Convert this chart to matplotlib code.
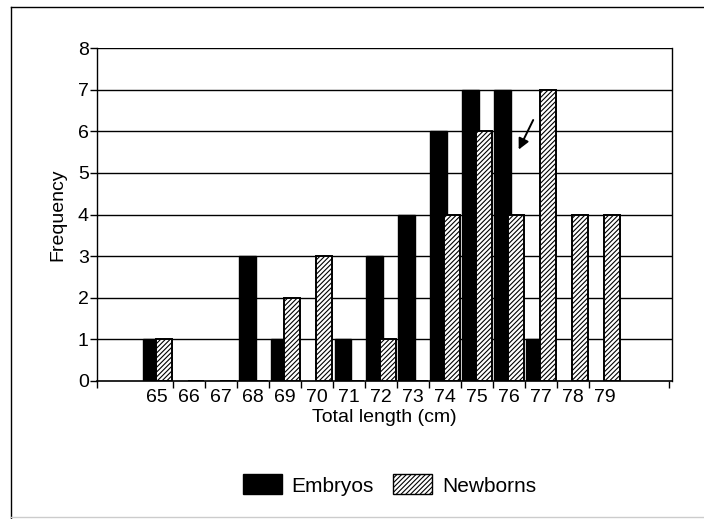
import numpy as np
import matplotlib.pyplot as plt
from matplotlib.lines import Line2D
from matplotlib.patches import Patch

plt.rcParams["font.family"] = ["Liberation Sans", "DejaVu Sans"]
plt.rcParams["hatch.linewidth"] = 0.8

# Length classes and counts
lengths = ["65", "66", "67", "68", "69", "70", "71", "72",
           "73", "74", "75", "76", "77", "78", "79"]
embryos = [1, 0, 0, 3, 1, 0, 1, 3, 4, 6, 7, 7, 1, 0, 0]
newborns = [1, 0, 0, 0, 2, 3, 0, 1, 0, 4, 6, 4, 7, 4, 4]

fig = plt.figure(figsize=(7.04, 5.19), dpi=100)
ax = fig.add_axes([0.1378, 0.2659, 0.8167, 0.6416])

x = np.arange(len(lengths))
ax.bar(x - 0.185, embryos, width=0.53, color="black", edgecolor="black",
       linewidth=1.0, zorder=3)
ax.bar(x + 0.23, newborns, width=0.5, color="white", edgecolor="black",
       hatch="///////", linewidth=1.4, zorder=4)

ax.set_xlim(-1.875, 16.1)
ax.set_ylim(0, 8)

# horizontal grid lines at every count
for v in range(1, 9):
    ax.axhline(v, color="black", linewidth=1.0, zorder=1)

ax.spines["top"].set_visible(False)
ax.spines["left"].set_linewidth(1.0)
ax.spines["right"].set_linewidth(1.0)
ax.spines["bottom"].set_linewidth(1.2)
ax.spines["bottom"].set_zorder(5)

ax.set_yticks(range(0, 9))
ax.tick_params(axis="y", direction="out", length=5, width=1.0,
               labelsize=14, pad=1)

# labels at class centres, tick marks on class boundaries
ax.set_xticks(x)
ax.set_xticklabels(lengths)
ax.tick_params(axis="x", which="major", length=0, labelsize=14, pad=6)
bounds = list(np.arange(0.5, len(lengths) - 1, 1.0)) + [-1.875, 16.0]
ax.set_xticks(bounds, minor=True)
ax.tick_params(axis="x", which="minor", direction="out", length=5, width=1.0)

ax.set_xlabel("Total length (cm)", fontsize=14, labelpad=2)
ax.set_ylabel("Frequency", fontsize=14, labelpad=8)

ax.annotate("", xy=(11.27, 5.5), xytext=(11.8, 6.33),
            arrowprops=dict(arrowstyle="-|>", color="black", lw=1.4,
                            mutation_scale=16), zorder=6)

handles = [Patch(facecolor="black", edgecolor="black"),
           Patch(facecolor="white", edgecolor="black", hatch="///////")]
fig.legend(handles, ["Embryos", "Newborns"], loc="center",
           bbox_to_anchor=(0.553, 0.0655), ncol=2, frameon=False,
           fontsize=15, handlelength=1.9, handleheight=1.1,
           columnspacing=0.9, handletextpad=0.45)

# page frame
fig.add_artist(Line2D([11 / 704, 1.0], [1 - 7 / 519, 1 - 7 / 519],
                      color="black", linewidth=1.0))
fig.add_artist(Line2D([11 / 704, 11 / 704], [0.0, 1 - 7 / 519],
                      color="black", linewidth=1.0))
fig.add_artist(Line2D([11 / 704, 1.0], [2 / 519, 2 / 519],
                      color="#cccccc", linewidth=1.0))

fig.savefig("out.png", dpi=100)
